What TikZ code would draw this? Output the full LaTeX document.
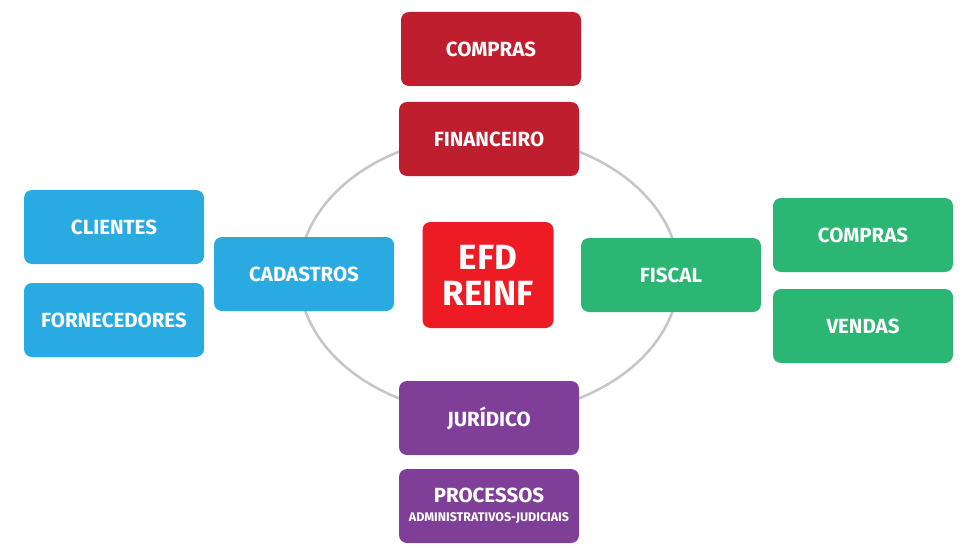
\documentclass[tikz,border=0pt]{standalone}
\usepackage{fontspec}
\setmainfont{Fira Sans}
\definecolor{cred}{HTML}{BE1E2D}
\definecolor{cblue}{HTML}{29ABE2}
\definecolor{cgreen}{HTML}{2BB673}
\definecolor{cpurple}{HTML}{7F3F98}
\definecolor{cefd}{HTML}{ED1C24}
\begin{document}
\begin{tikzpicture}[x=1pt,y=-1pt,
  box/.style={rounded corners=8pt,minimum width=180pt,minimum height=74pt,text=white,font=\fontsize{20.5}{23}\selectfont\bfseries,align=center,inner sep=0pt}]
\useasboundingbox[fill=white] (0,0) rectangle (960,559);
\draw[gray!45,line width=2.5pt] (489,275) ellipse [x radius=190,y radius=140];
\node[box,fill=cred] (c1) at (491,49) {COMPRAS};
\node[box,fill=cred] (fin) at (489,139) {FINANCEIRO};
\node[box,fill=cblue] (cli) at (114,227) {CLIENTES};
\node[box,fill=cblue] (for) at (114,320) {FORNECEDORES};
\node[box,fill=cblue] (cad) at (304,274) {CADASTROS};
\node[box,fill=cefd,minimum width=131pt,minimum height=106pt,font=\fontsize{35}{36}\selectfont\bfseries] (efd) at (488,275) {EFD\\REINF};
\node[box,fill=cgreen] (fis) at (671,275) {FISCAL};
\node[box,fill=cgreen] (c2) at (863,235) {COMPRAS};
\node[box,fill=cgreen] (ven) at (863,326) {VENDAS};
\node[box,fill=cpurple] (jur) at (489,418) {JURÍDICO};
\node[box,fill=cpurple] (pro) at (489,506) {PROCESSOS\\[-4pt]{\fontsize{12.5}{13}\selectfont ADMINISTRATIVOS-JUDICIAIS}};
\end{tikzpicture}
\end{document}
